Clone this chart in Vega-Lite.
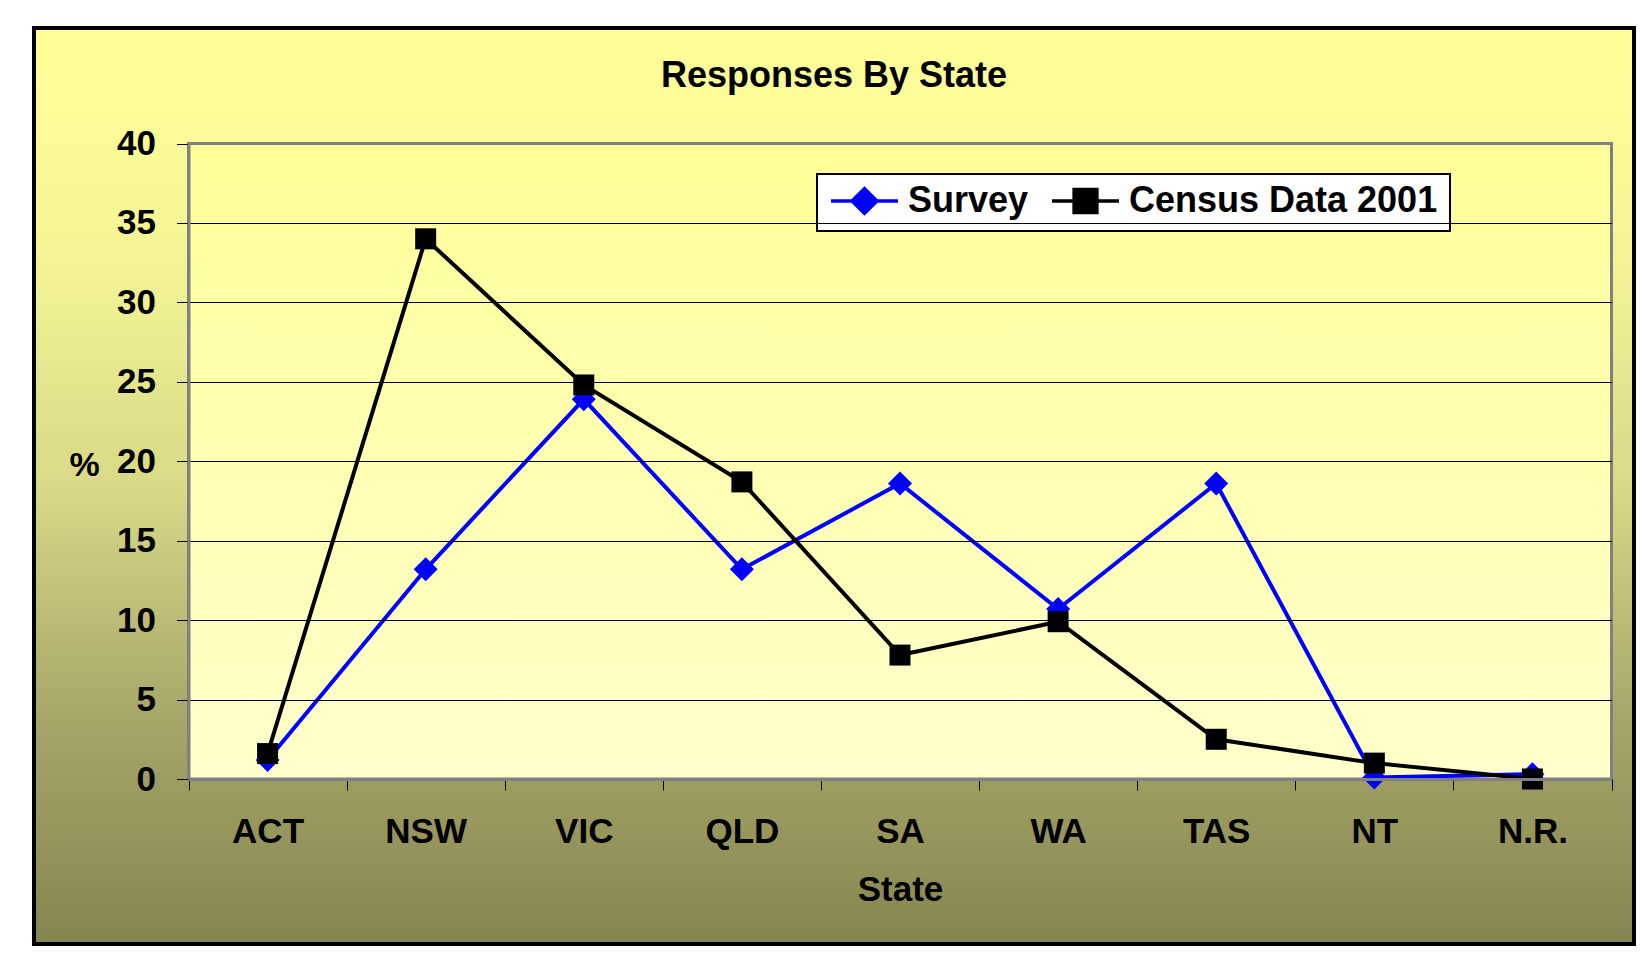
{
  "$schema": "https://vega.github.io/schema/vega-lite/v6.json",
  "width": 1600,
  "height": 916,
  "autosize": {"type": "none"},
  "padding": {"left": 34, "top": 28, "right": 11, "bottom": 19},
  "background": "white",
  "config": {
    "font": "Liberation Sans",
    "view": {
      "fill": {"gradient": "linear", "x1": 0, "y1": 0, "x2": 0, "y2": 1,
        "stops": [
          {"offset": 0, "color": "#FFFF99"},
          {"offset": 0.25, "color": "#F4F496"},
          {"offset": 0.5, "color": "#D9D987"},
          {"offset": 0.75, "color": "#A7A76A"},
          {"offset": 1, "color": "#858550"}
        ]},
      "stroke": "#000000",
      "strokeWidth": 4
    }
  },
  "title": {
    "text": "Responses By State",
    "font": "Liberation Sans",
    "fontSize": 36,
    "fontWeight": "bold",
    "color": "#000000",
    "anchor": "middle",
    "frame": "group",
    "offset": -67
  },
  "data": {
    "values": [
      {"State": "ACT", "Series": "Survey", "Pct": 1.2},
      {"State": "NSW", "Series": "Survey", "Pct": 13.2},
      {"State": "VIC", "Series": "Survey", "Pct": 23.9},
      {"State": "QLD", "Series": "Survey", "Pct": 13.2},
      {"State": "SA", "Series": "Survey", "Pct": 18.6},
      {"State": "WA", "Series": "Survey", "Pct": 10.7},
      {"State": "TAS", "Series": "Survey", "Pct": 18.6},
      {"State": "NT", "Series": "Survey", "Pct": 0.1},
      {"State": "N.R.", "Series": "Survey", "Pct": 0.3},
      {"State": "ACT", "Series": "Census Data 2001", "Pct": 1.6},
      {"State": "NSW", "Series": "Census Data 2001", "Pct": 34.0},
      {"State": "VIC", "Series": "Census Data 2001", "Pct": 24.8},
      {"State": "QLD", "Series": "Census Data 2001", "Pct": 18.7},
      {"State": "SA", "Series": "Census Data 2001", "Pct": 7.8},
      {"State": "WA", "Series": "Census Data 2001", "Pct": 9.9},
      {"State": "TAS", "Series": "Census Data 2001", "Pct": 2.5},
      {"State": "NT", "Series": "Census Data 2001", "Pct": 1.0},
      {"State": "N.R.", "Series": "Census Data 2001", "Pct": 0.0}
    ]
  },
  "layer": [
    {
      "data": {"values": [{}]},
      "mark": {
        "type": "rect",
        "fill": {"gradient": "linear", "x1": 0, "y1": 0, "x2": 0, "y2": 1,
          "stops": [
            {"offset": 0, "color": "#FFFF99"},
            {"offset": 1, "color": "#FFFFCC"}
          ]},
        "stroke": "#808080",
        "strokeWidth": 3
      },
      "encoding": {
        "x": {
          "datum": "ACT",
          "type": "nominal",
          "bandPosition": 0,
          "scale": {
            "type": "band",
            "domain": ["ACT", "NSW", "VIC", "QLD", "SA", "WA", "TAS", "NT", "N.R."],
            "range": [154.5, 1577.5],
            "paddingInner": 0,
            "paddingOuter": 0
          },
          "axis": {
            "orient": "bottom",
            "offset": -165,
            "title": "State",
            "titleFont": "Liberation Sans",
            "titleFontSize": 35,
            "titleFontWeight": "bold",
            "titleColor": "#000000",
            "titleX": 866,
            "titleY": 121,
            "titleBaseline": "alphabetic",
            "titleAlign": "center",
            "tickBand": "extent",
            "tickSize": 11,
            "tickColor": "#000000",
            "tickWidth": 1,
            "domainColor": "#808080",
            "domainWidth": 3,
            "labelFont": "Liberation Sans",
            "labelFontSize": 35,
            "labelFontWeight": "bold",
            "labelColor": "#000000",
            "labelAngle": 0,
            "labelPadding": 24,
            "grid": false,
            "zindex": 1
          }
        },
        "x2": {"datum": "N.R.", "bandPosition": 1},
        "y": {
          "datum": 40,
          "type": "quantitative",
          "scale": {"domain": [0, 40], "range": [751, 115.5], "nice": false, "zero": false},
          "axis": {
            "orient": "left",
            "offset": -154.5,
            "values": [0, 5, 10, 15, 20, 25, 30, 35, 40],
            "title": "%",
            "titleFont": "Liberation Sans",
            "titleFontSize": 34,
            "titleFontWeight": "bold",
            "titleColor": "#000000",
            "titleAngle": 0,
            "titleX": -104.5,
            "titleY": 447,
            "titleAlign": "center",
            "titleBaseline": "alphabetic",
            "grid": true,
            "gridColor": {"condition": {"test": "datum.value === 0 || datum.value === 40", "value": "transparent"}, "value": "#000000"},
            "gridWidth": 1,
            "tickSize": 12,
            "tickColor": "#000000",
            "tickWidth": 1,
            "domainColor": "#808080",
            "domainWidth": 3,
            "labelFont": "Liberation Sans",
            "labelFontSize": 35,
            "labelFontWeight": "bold",
            "labelColor": "#000000",
            "labelPadding": 21,
            "zindex": 1
          }
        },
        "y2": {"datum": 0}
      }
    },
    {
      "transform": [{"filter": "datum.Series === 'Survey'"}],
      "mark": {"type": "line", "strokeWidth": 4},
      "encoding": {
        "x": {"field": "State", "type": "nominal", "bandPosition": 0.5},
        "y": {"field": "Pct", "type": "quantitative"},
        "color": {
          "field": "Series",
          "type": "nominal",
          "scale": {"domain": ["Survey", "Census Data 2001"], "range": ["#0000FF", "#000000"]},
          "legend": {
            "title": null,
            "orient": "none",
            "legendX": 783,
            "legendY": 146,
            "direction": "horizontal",
            "columns": 2,
            "symbolSize": 4489,
            "clipHeight": 30,
            "labelFont": "Liberation Sans",
            "labelFontSize": 36,
            "labelFontWeight": "bold",
            "labelColor": "#000000",
            "labelOffset": 8,
            "labelLimit": 0,
            "columnPadding": 21,
            "padding": 12,
            "strokeColor": "#000000",
            "fillColor": "#FFFFFF",
            "encode": {
              "legend": {"update": {"strokeWidth": {"value": 2}}},
              "symbols": {
                "update": {
                  "shape": {"signal": "datum.value === 'Survey' ? 'M-1,0L1,0M-0.37,0L0,-0.37L0.37,0L0,0.37Z' : 'M-1,0L1,0M-0.34,-0.34L0.34,-0.34L0.34,0.34L-0.34,0.34Z'"},
                  "fill": {"signal": "datum.value === 'Survey' ? '#0000FF' : '#000000'"},
                  "stroke": {"signal": "datum.value === 'Survey' ? '#0000FF' : '#000000'"},
                  "strokeWidth": {"value": 3.5},
                  "opacity": {"value": 1},
                  "fillOpacity": {"value": 1},
                  "strokeOpacity": {"value": 1},
                  "size": {"value": 4489}
                }
              }
            }
          }
        }
      }
    },
    {
      "transform": [{"filter": "datum.Series === 'Survey'"}],
      "mark": {"type": "point", "shape": "diamond", "filled": true, "size": 576, "opacity": 1},
      "encoding": {
        "x": {"field": "State", "type": "nominal", "bandPosition": 0.5},
        "y": {"field": "Pct", "type": "quantitative"},
        "color": {"field": "Series", "type": "nominal"}
      }
    },
    {
      "transform": [{"filter": "datum.Series === 'Census Data 2001'"}],
      "mark": {"type": "line", "strokeWidth": 4},
      "encoding": {
        "x": {"field": "State", "type": "nominal", "bandPosition": 0.5},
        "y": {"field": "Pct", "type": "quantitative"},
        "color": {"field": "Series", "type": "nominal"}
      }
    },
    {
      "transform": [{"filter": "datum.Series === 'Census Data 2001'"}],
      "mark": {"type": "point", "shape": "square", "filled": true, "size": 441, "opacity": 1},
      "encoding": {
        "x": {"field": "State", "type": "nominal", "bandPosition": 0.5},
        "y": {"field": "Pct", "type": "quantitative"},
        "color": {"field": "Series", "type": "nominal"}
      }
    }
  ]
}
